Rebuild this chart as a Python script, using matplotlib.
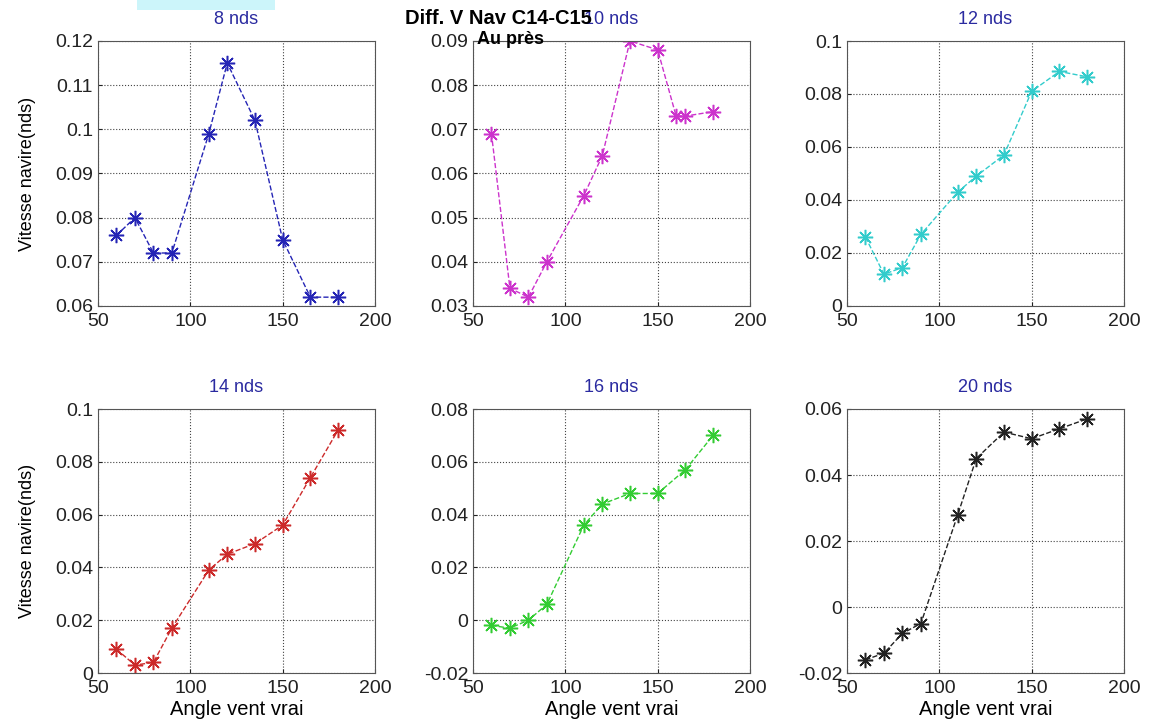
import numpy as np
import matplotlib
matplotlib.use("Agg")
import matplotlib.pyplot as plt
from matplotlib.ticker import FuncFormatter, MultipleLocator
from matplotlib.patches import Rectangle

plt.rcParams['font.family'] = ['Liberation Sans', 'DejaVu Sans']

# Angles (deg) et ecarts de vitesse (nds)
angles = [60, 70, 80, 90, 110, 120, 135, 150, 165, 180]
angles_10 = [60, 70, 80, 90, 110, 120, 135, 150, 160, 165, 180]

v8 = [0.076, 0.080, 0.072, 0.072, 0.099, 0.115, 0.102, 0.075, 0.062, 0.062]
v10 = [0.069, 0.034, 0.032, 0.040, 0.055, 0.064, 0.090, 0.088, 0.073, 0.073, 0.074]
v12 = [0.026, 0.012, 0.0145, 0.027, 0.043, 0.049, 0.057, 0.081, 0.0885, 0.0865]
v14 = [0.009, 0.003, 0.004, 0.017, 0.039, 0.045, 0.049, 0.056, 0.074, 0.092]
v16 = [-0.002, -0.003, 0.0, 0.006, 0.036, 0.044, 0.048, 0.048, 0.057, 0.070]
v20 = [-0.016, -0.014, -0.008, -0.005, 0.028, 0.045, 0.053, 0.051, 0.054, 0.057]

titres = ['8 nds', '10 nds', '12 nds', '14 nds', '16 nds', '20 nds']
couleurs = ['#2525b5', '#cc33cc', '#33cccc', '#cc2a2a', '#33cc33', '#222222']
ylims = [(0.06, 0.12), (0.03, 0.09), (0, 0.1), (0, 0.1), (-0.02, 0.08), (-0.02, 0.06)]
ypas = [0.01, 0.01, 0.02, 0.02, 0.02, 0.02]

series = [(angles, v8), (angles_10, v10), (angles, v12),
          (angles, v14), (angles, v16), (angles, v20)]

fig = plt.figure(figsize=(11.52, 7.26), dpi=100)

W, H = 1152.0, 726.0
lefts = [98, 473, 847]
rows = [(41, 306), (409, 673)]

fmt = FuncFormatter(lambda v, p: ('%g' % round(v, 4)))

for i, (x, y) in enumerate(series):
    r, c = divmod(i, 3)
    top, bot = rows[r]
    ax = fig.add_axes([lefts[c] / W, 1 - bot / H, 277 / W, (bot - top) / H])
    ax.plot(x, y, '--', color=couleurs[i], lw=1.0, marker=(8, 2, 0), ms=11, mew=1.1)
    ax.set_xlim(50, 200)
    ax.set_ylim(*ylims[i])
    ax.xaxis.set_major_locator(MultipleLocator(50))
    ax.yaxis.set_major_locator(MultipleLocator(ypas[i]))
    ax.yaxis.set_major_formatter(fmt)
    ax.grid(True, linestyle=':', color='#444444', lw=0.8)
    ax.tick_params(direction='in', length=3, labelsize=14, colors='#222222')
    ax.tick_params(axis='x', pad=5)
    for s in ax.spines.values():
        s.set_color('#555555')
        s.set_linewidth(0.8)
    ax.set_title(titres[i], color='#2a2aa0', fontsize=13, pad=12)
    if c == 0:
        ax.set_ylabel('Vitesse navire(nds)', fontsize=13, labelpad=14)
    if r == 1:
        ax.set_xlabel('Angle vent vrai', fontsize=14.5, labelpad=2)

fig.text(498 / W, 1 - 18 / H, 'Diff. V Nav C14-C15', ha='center', va='center',
         fontsize=14.5, fontweight='bold')
fig.text(477 / W, 1 - 40 / H, 'Au près', ha='left', va='center',
         fontsize=13, fontweight='bold')
fig.patches.append(Rectangle((137 / W, 1 - 10 / H), 138 / W, 10 / H,
                             transform=fig.transFigure, facecolor='#ccf5fa',
                             edgecolor='none'))

fig.savefig('out.png', dpi=100)
